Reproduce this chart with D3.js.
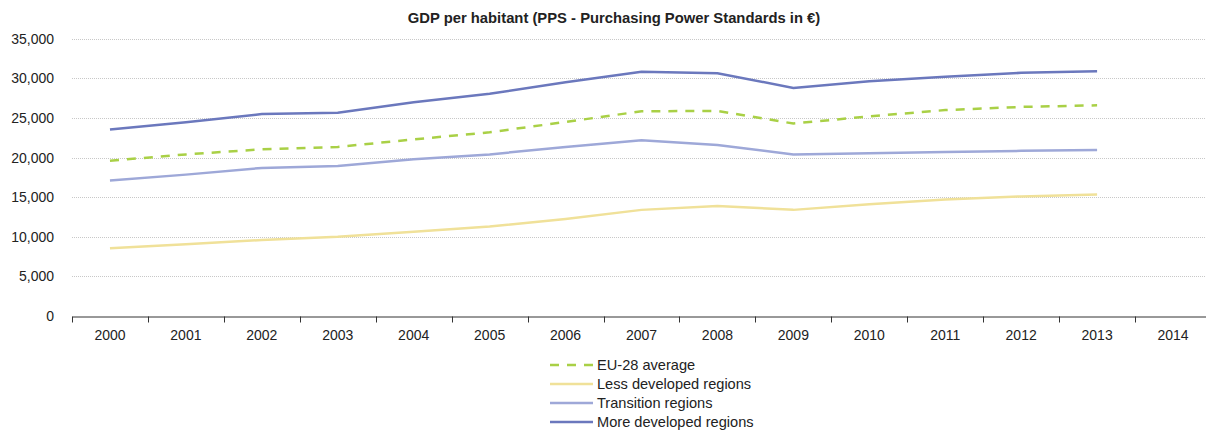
<!DOCTYPE html>
<meta charset="utf-8">
<style>
body { margin: 0; background: #fff; }
text { font-family: "Liberation Sans", Arial, sans-serif; fill: #222; }
.grid line { stroke: #c8c8c8; stroke-dasharray: 1,1; }
</style>
<svg width="1206" height="430"></svg>
<script src="https://d3js.org/d3.v7.min.js"></script>
<script>

var years = ["2000","2001","2002","2003","2004","2005","2006","2007","2008","2009","2010","2011","2012","2013","2014"];
var yTicks = [0, 5000, 10000, 15000, 20000, 25000, 30000, 35000];

var euAverage    = [19600, 20400, 21050, 21350, 22300, 23200, 24500, 25850, 25900, 24300, 25200, 26000, 26400, 26600];
var lessDev      = [8550, 9050, 9600, 10000, 10650, 11300, 12250, 13400, 13900, 13400, 14100, 14700, 15100, 15350];
var transition   = [17100, 17850, 18700, 18950, 19800, 20400, 21350, 22200, 21600, 20400, 20550, 20700, 20850, 20950];
var moreDev      = [23550, 24450, 25500, 25650, 27000, 28050, 29500, 30850, 30650, 28800, 29650, 30200, 30700, 30900];

var series = [
  {name: "EU-28 average", values: euAverage, color: "#a9d046", dash: "9,8"},
  {name: "Less developed regions", values: lessDev, color: "#f0e199", dash: null},
  {name: "Transition regions", values: transition, color: "#9ea8d8", dash: null},
  {name: "More developed regions", values: moreDev, color: "#6b78bd", dash: null}
];

var svg = d3.select("svg");
var plotLeft = 72, plotRight = 1211, plotTop = 38.8, plotBottom = 316;

var x = d3.scaleBand().domain(years).range([plotLeft, plotRight]);
var y = d3.scaleLinear().domain([0, 35000]).range([plotBottom, plotTop]);

svg.append("text")
    .attr("x", 614).attr("y", 23)
    .attr("text-anchor", "middle")
    .style("font-weight", "bold")
    .style("font-size", "14.8px")
    .text("GDP per habitant (PPS - Purchasing Power Standards in €)");

// grid
svg.append("g").attr("class", "grid")
  .selectAll("line")
  .data(yTicks.filter(function(d) { return d > 0; }))
  .join("line")
    .attr("x1", plotLeft).attr("x2", plotRight)
    .attr("y1", function(d) { return Math.round(y(d)) + 0.5; })
    .attr("y2", function(d) { return Math.round(y(d)) + 0.5; });

// y labels
var yAxis = svg.append("g")
    .attr("transform", "translate(" + plotLeft + ",0)")
    .call(d3.axisLeft(y).tickValues(yTicks).tickSize(0).tickPadding(18).tickFormat(d3.format(",")));
yAxis.select(".domain").remove();
yAxis.selectAll("text").style("font-size", "14px").attr("fill", "#222");

// x axis
var xAxis = svg.append("g")
    .attr("transform", "translate(0," + (Math.round(plotBottom) + 0.5) + ")")
    .call(d3.axisBottom(x).tickSize(0).tickPadding(10));
xAxis.select(".domain").attr("stroke", "#333");
xAxis.selectAll("text").style("font-size", "14px").attr("fill", "#222").attr("dy", "0.95em");
xAxis.selectAll(".sep")
  .data(years)
  .join("line")
    .attr("class", "sep")
    .attr("x1", function(d) { return Math.round(x(d)) + 0.5; })
    .attr("x2", function(d) { return Math.round(x(d)) + 0.5; })
    .attr("y1", 0).attr("y2", 6)
    .attr("stroke", "#333");

var line = d3.line()
    .x(function(d, i) { return x(years[i]) + x.bandwidth() / 2; })
    .y(function(d) { return y(d); });

svg.append("g").selectAll("path")
  .data(series.slice().reverse())
  .join("path")
    .attr("d", function(d) { return line(d.values); })
    .attr("fill", "none")
    .attr("stroke", function(d) { return d.color; })
    .attr("stroke-width", 2.5)
    .attr("stroke-dasharray", function(d) { return d.dash; });

// legend
var legend = svg.append("g").selectAll("g")
  .data(series)
  .join("g")
    .attr("transform", function(d, i) { return "translate(550," + (365 + i * 19) + ")"; });

legend.append("line")
    .attr("x1", 0).attr("x2", 43)
    .attr("stroke", function(d) { return d.color; })
    .attr("stroke-width", 2.5)
    .attr("stroke-dasharray", function(d) { return d.dash; });

legend.append("text")
    .attr("x", 47).attr("dy", "0.35em")
    .style("font-size", "14.6px")
    .text(function(d) { return d.name; });

</script>
